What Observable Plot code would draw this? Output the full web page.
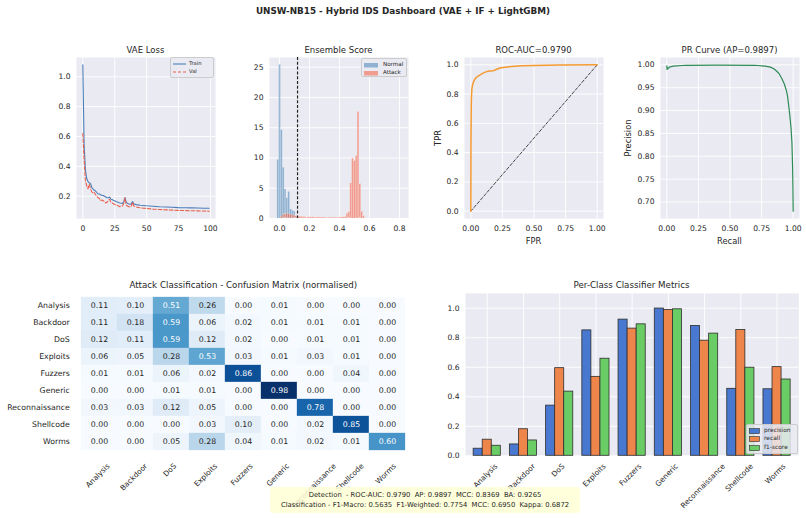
<!DOCTYPE html>
<html><head><meta charset="utf-8">
<script src="https://cdn.jsdelivr.net/npm/d3@7"></script>
<script src="https://cdn.jsdelivr.net/npm/@observablehq/plot@0.6"></script>
<style>
html,body{margin:0;padding:0;background:#fff;}
#root{position:relative;width:806px;height:518px;overflow:hidden;font-family:"DejaVu Sans",sans-serif;color:#262626;}
.lbl{position:absolute;white-space:nowrap;line-height:1;transform:translate(-50%,-50%);}
.leg{position:absolute;background:rgba(234,234,242,0.85);border:0.8px solid #cccccc;border-radius:2px;box-sizing:border-box;}
.leg .row{position:absolute;left:2px;display:flex;align-items:center;white-space:nowrap;line-height:1;}
.foot{position:absolute;background:rgba(255,255,214,0.85);border-radius:3px;text-align:center;white-space:pre;font-size:6.8px;line-height:10px;box-sizing:border-box;padding-top:3px;}
</style></head><body><div id="root"></div>
<script>
// ---------------- data ----------------
const classes = ["Analysis","Backdoor","DoS","Exploits","Fuzzers","Generic","Reconnaissance","Shellcode","Worms"];

const vaeEpochs = [0,1,2,3,4,5,6,7,8,9,10,11,12,13,14,15,16,17,18,19,20,21,22,23,24,25,26,27,28,29,30,31,32,33,34,35,36,37,38,39,40,42,45,50,55,60,65,70,75,80,85,90,95,99];
const trainLoss = [1.08,0.55,0.38,0.32,0.30,0.29,0.285,0.26,0.25,0.24,0.235,0.225,0.215,0.215,0.21,0.205,0.205,0.20,0.195,0.19,0.19,0.195,0.18,0.178,0.172,0.17,0.165,0.162,0.158,0.155,0.153,0.152,0.16,0.19,0.16,0.152,0.148,0.147,0.15,0.165,0.148,0.144,0.14,0.136,0.133,0.13,0.128,0.126,0.124,0.123,0.122,0.121,0.12,0.12];
const valLoss = [0.62,0.45,0.31,0.27,0.25,0.28,0.25,0.23,0.22,0.225,0.21,0.20,0.19,0.185,0.17,0.175,0.17,0.165,0.155,0.16,0.17,0.18,0.16,0.155,0.15,0.145,0.14,0.14,0.135,0.13,0.132,0.135,0.15,0.19,0.14,0.135,0.13,0.128,0.135,0.16,0.135,0.128,0.122,0.118,0.114,0.111,0.109,0.107,0.105,0.104,0.103,0.102,0.101,0.10];

const binWidth = 0.0122;
const normalStart = -0.015;
const normalDensity = [9.7,25.4,14.6,8.4,4.8,3.4,4.4,1.5,1.3,1.15,0.4,0.2];
const attackStart = 0.008;
const attackDensity = [0.3,0.6,0.75,0.8,0.7,0.65,0.55,0.5,0.45,0.4,0.3,0.28,0.26,0.24,0.22,0.21,0.2,0.2,0.19,0.18,0.18,0.17,0.17,0.16,0.16,0.15,0.15,0.15,0.15,0.15,0.15,0.16,0.17,0.18,0.2,0.25,0.8,1.1,5.8,9.9,9.5,10.3,17.6,5.7,1.1,0.4];
const threshold = [0.12];

const rocFpr = [0,0.001,0.003,0.005,0.008,0.012,0.02,0.03,0.045,0.06,0.08,0.1,0.13,0.15,0.18,0.2,0.23,0.27,0.32,0.4,0.5,0.7,1.0];
const rocTpr = [0,0.45,0.68,0.78,0.83,0.855,0.88,0.9,0.915,0.925,0.935,0.945,0.955,0.958,0.96,0.968,0.978,0.984,0.988,0.993,0.996,0.999,1.0];
const chance = [0, 1];

const prRecall = [0,0.002,0.004,0.008,0.02,0.05,0.15,0.4,0.7,0.78,0.82,0.85,0.87,0.89,0.91,0.93,0.945,0.955,0.965,0.975,0.983,0.99,0.995,0.998,1.0];
const prPrecision = [0.998,0.99,0.994,0.991,0.995,0.997,0.999,0.9995,0.999,0.997,0.995,0.991,0.986,0.98,0.97,0.958,0.945,0.932,0.91,0.885,0.862,0.83,0.78,0.73,0.68];

const confusion = [
  [0.11,0.10,0.51,0.26,0.00,0.01,0.00,0.00,0.00],
  [0.11,0.18,0.59,0.06,0.02,0.01,0.01,0.01,0.00],
  [0.12,0.11,0.59,0.12,0.02,0.00,0.01,0.01,0.00],
  [0.06,0.05,0.28,0.53,0.03,0.01,0.03,0.01,0.00],
  [0.01,0.01,0.06,0.02,0.86,0.00,0.00,0.04,0.00],
  [0.00,0.00,0.01,0.01,0.00,0.98,0.00,0.00,0.00],
  [0.03,0.03,0.12,0.05,0.00,0.00,0.78,0.00,0.00],
  [0.00,0.00,0.00,0.03,0.10,0.00,0.02,0.85,0.00],
  [0.00,0.00,0.05,0.28,0.04,0.01,0.02,0.01,0.60]
];

const metricNames = ["precision","recall","f1-score"];
const precision = [0.048,0.077,0.34,0.85,0.923,0.998,0.88,0.454,0.451];
const recall    = [0.109,0.18,0.594,0.535,0.862,0.989,0.78,0.853,0.601];
const f1score   = [0.068,0.104,0.435,0.658,0.891,0.993,0.828,0.597,0.517];

const footerLines = [
  "Detection  - ROC-AUC: 0.9790  AP: 0.9897  MCC: 0.8369  BA: 0.9265",
  "Classification - F1-Macro: 0.5635  F1-Weighted: 0.7754  MCC: 0.6950  Kappa: 0.6872"
];

// ---------------- helpers ----------------
const root = document.getElementById("root");
const FONT = "DejaVu Sans, sans-serif";
const BG = "#EAEAF2";
const TXT = "#262626";
const TICK = 7.6;

function addPlot(frame, m, opts) {
  const [x0, x1, y0, y1] = frame;
  const [mt, mr, mb, ml] = m;
  const svg = Plot.plot({
    width: x1 - x0 + ml + mr,
    height: y1 - y0 + mt + mb,
    marginTop: mt, marginRight: mr, marginBottom: mb, marginLeft: ml,
    style: {background: "transparent", fontFamily: FONT, fontSize: TICK + "px", color: TXT, overflow: "visible"},
    ...opts
  });
  svg.style.position = "absolute";
  svg.style.left = (x0 - ml) + "px";
  svg.style.top = (y0 - mt) + "px";
  root.appendChild(svg);
}
function label(text, x, y, size, extra = {}) {
  const d = document.createElement("div");
  d.className = "lbl";
  d.textContent = text;
  Object.assign(d.style, {left: x + "px", top: y + "px", fontSize: size + "px"}, extra);
  root.appendChild(d);
}
function legend(box, rows, fs) {
  const d = document.createElement("div");
  d.className = "leg";
  Object.assign(d.style, {left: box[0] + "px", top: box[1] + "px", width: box[2] + "px", height: box[3] + "px", fontSize: fs + "px"});
  rows.forEach(r => {
    const e = document.createElement("div");
    e.className = "row";
    e.style.top = r.top + "px";
    e.innerHTML = `<svg width="${r.w}" height="6" style="margin-right:${r.gap}px;overflow:visible">${r.svg}</svg><span>${r.label}</span>`;
    d.appendChild(e);
  });
  root.appendChild(d);
}
const fmt1 = d3.format(".1f"), fmt2 = d3.format(".2f");
function darkgrid(xt, yt) {
  return [
    Plot.frame({fill: BG, stroke: null}),
    Plot.gridX({ticks: xt, stroke: "white", strokeOpacity: 1, strokeWidth: 0.9}),
    Plot.gridY({ticks: yt, stroke: "white", strokeOpacity: 1, strokeWidth: 0.9})
  ];
}
function axes(xt, yt, xf, yf) {
  return [
    Plot.axisX({ticks: xt, tickFormat: xf, tickSize: 0, tickPadding: 7, label: null, fill: TXT}),
    Plot.axisY({ticks: yt, tickFormat: yf, tickSize: 0, tickPadding: 6, label: null, fill: TXT})
  ];
}
const ctx = document.createElement("canvas").getContext("2d");
function rotLabels(items, fs, pad) {
  ctx.font = `${fs}px "DejaVu Sans"`;
  return items.map(it => {
    const L = ctx.measureText(it.text).width;
    const dy = pad + (L + fs * 1.1) * Math.SQRT1_2 / 2;
    return Plot.text([it], {x: "x", text: "text", frameAnchor: "bottom", rotate: -45, dy, fontSize: fs, fill: TXT, textAnchor: "middle"});
  });
}

// ---------------- title ----------------
label("UNSW-NB15 - Hybrid IDS Dashboard (VAE + IF + LightGBM)", 403, 11, 8.8, {fontWeight: "bold"});

// ---------------- VAE loss ----------------
const vaeRows = vaeEpochs.map((e, i) => ({e, train: trainLoss[i], val: valLoss[i]}));
const vaeX = [0, 25, 50, 75, 100], vaeY = [0.2, 0.4, 0.6, 0.8, 1.0];
addPlot([76, 215, 57, 218], [5, 5, 30, 40], {
  x: {domain: [-4.95, 103.95]},
  y: {domain: [0.051, 1.129]},
  marks: [
    ...darkgrid(vaeX, vaeY),
    Plot.line(vaeRows, {x: "e", y: "train", stroke: "#4c7fb8", strokeWidth: 1.1}),
    Plot.line(vaeRows, {x: "e", y: "val", stroke: "#e8604c", strokeWidth: 1.1, strokeDasharray: "3.5,2"}),
    ...axes(vaeX, vaeY, d => d, fmt1)
  ]
});
label("VAE Loss", 145.5, 49.5, 8.5);
legend([170, 57, 44, 21], [
  {top: 2.5, w: 13, gap: 3, label: "Train", svg: `<line x1="0" x2="13" y1="3" y2="3" stroke="#4c7fb8" stroke-width="1.1"/>`},
  {top: 11, w: 13, gap: 3, label: "Val", svg: `<line x1="0" x2="13" y1="3" y2="3" stroke="#e8604c" stroke-width="1.1" stroke-dasharray="3,2"/>`}
], 5.2);

// ---------------- Ensemble score ----------------
const normalBins = normalDensity.map((v, i) => ({x1: normalStart + i * binWidth, x2: normalStart + (i + 1) * binWidth, d: v}));
const attackBins = attackDensity.map((v, i) => ({x1: attackStart + i * binWidth, x2: attackStart + (i + 1) * binWidth, d: v}));
const ensX = [0, 0.2, 0.4, 0.6, 0.8], ensY = [0, 5, 10, 15, 20, 25];
addPlot([269, 408, 57, 218], [5, 5, 30, 40], {
  x: {domain: [-0.067, 0.86]},
  y: {domain: [0, 26.6]},
  marks: [
    ...darkgrid(ensX, ensY),
    Plot.rect(normalBins, {x1: "x1", x2: "x2", y1: 0, y2: "d", fill: "#4682b4", fillOpacity: 0.55, stroke: "white", strokeWidth: 0.3, strokeOpacity: 0.6}),
    Plot.rect(attackBins, {x1: "x1", x2: "x2", y1: 0, y2: "d", fill: "#f4694f", fillOpacity: 0.6, stroke: "white", strokeWidth: 0.3, strokeOpacity: 0.6}),
    Plot.ruleX(threshold, {stroke: "#222", strokeWidth: 1.2, strokeDasharray: "3,1.8"}),
    ...axes(ensX, ensY, fmt1, d => d)
  ]
});
label("Ensemble Score", 338.5, 49.5, 8.5);
legend([361, 58, 46, 19], [
  {top: 2.5, w: 14, gap: 5, label: "Normal", svg: `<rect x="0" y="1" width="14" height="4.5" fill="#4682b4" fill-opacity="0.55"/>`},
  {top: 11, w: 14, gap: 5, label: "Attack", svg: `<rect x="0" y="1" width="14" height="4.5" fill="#f4694f" fill-opacity="0.6"/>`}
], 5.6);

// ---------------- ROC ----------------
const rocRows = rocFpr.map((f, i) => ({f, t: rocTpr[i]}));
const q4 = [0, 0.25, 0.5, 0.75, 1.0], rocY = [0, 0.2, 0.4, 0.6, 0.8, 1.0];
addPlot([464, 603, 57, 218], [5, 5, 30, 40], {
  x: {domain: [-0.05, 1.05]},
  y: {domain: [-0.05, 1.05]},
  marks: [
    ...darkgrid(q4, rocY),
    Plot.line(chance.map(v => ({f: v, t: v})), {x: "f", y: "t", stroke: "#333", strokeWidth: 0.9, strokeDasharray: "3,2"}),
    Plot.line(rocRows, {x: "f", y: "t", stroke: "#f39a30", strokeWidth: 1.5}),
    ...axes(q4, rocY, fmt2, fmt1)
  ]
});
label("ROC-AUC=0.9790", 533.5, 49.5, 8.5);
label("FPR", 533.5, 240.5, 8.3);
label("TPR", 437.5, 137.5, 8.3, {transform: "translate(-50%,-50%) rotate(-90deg)"});

// ---------------- PR ----------------
const prRows = prRecall.map((r, i) => ({r, p: prPrecision[i]}));
const prY = [0.70, 0.75, 0.80, 0.85, 0.90, 0.95, 1.00];
addPlot([660, 799, 57, 218], [5, 5, 30, 40], {
  x: {domain: [-0.05, 1.05]},
  y: {domain: [0.664, 1.016]},
  marks: [
    ...darkgrid(q4, prY),
    Plot.line(prRows, {x: "r", y: "p", stroke: "#2e8b57", strokeWidth: 1.2}),
    ...axes(q4, prY, fmt2, fmt2)
  ]
});
label("PR Curve (AP=0.9897)", 729.5, 49.5, 8.5);
label("Recall", 729.5, 240.5, 8.3);
label("Precision", 628, 138, 8.3, {transform: "translate(-50%,-50%) rotate(-90deg)"});

// ---------------- Confusion matrix ----------------
const cmRows = [];
classes.forEach((t, i) => confusion[i].forEach((v, j) => cmRows.push({t, p: classes[j], v})));
const vmax = d3.max(cmRows, d => d.v), vmin = d3.min(cmRows, d => d.v);
function relLum(c) {
  const rgb = d3.rgb(c);
  const f = x => { x /= 255; return x <= 0.03928 ? x / 12.92 : Math.pow((x + 0.055) / 1.055, 2.4); };
  return 0.2126 * f(rgb.r) + 0.7152 * f(rgb.g) + 0.0722 * f(rgb.b);
}
const isDark = v => relLum(d3.interpolateBlues((v - vmin) / (vmax - vmin))) <= 0.408;
addPlot([78.3, 408.3, 292.7, 453.8], [0, 2, 70, 78.3], {
  x: {domain: classes, padding: 0, axis: null},
  y: {domain: classes, padding: 0},
  color: {type: "linear", scheme: "blues", domain: [vmin, vmax]},
  marks: [
    Plot.cell(cmRows, {x: "p", y: "t", fill: "v", inset: 0, stroke: "v", strokeWidth: 0.3}),
    Plot.text(cmRows, {filter: d => isDark(d.v), x: "p", y: "t", text: d => fmt2(d.v), fill: "white", fontSize: 7.8}),
    Plot.text(cmRows, {filter: d => !isDark(d.v), x: "p", y: "t", text: d => fmt2(d.v), fill: TXT, fontSize: 7.8}),
    Plot.axisY({tickSize: 0, tickPadding: 9, label: null, fill: TXT, fontSize: 7.8}),
    ...rotLabels(classes.map(c => ({x: c, text: c})), 7.4, 9)
  ]
});
label("Attack Classification - Confusion Matrix (normalised)", 243.3, 285, 8.7);

// ---------------- Per-class metrics ----------------
const metricSeries = [precision, recall, f1score];
const metricColors = ["#4878d0", "#ee854a", "#6acc64"];
const barW = 0.25;
const barRows = [];
metricSeries.forEach((arr, m) => arr.forEach((v, i) => barRows.push({i, m: metricNames[m], off: (m - 1) * barW, v})));
const barY = [0, 0.2, 0.4, 0.6, 0.8, 1.0];
const classIdx = classes.map((c, i) => i);
addPlot([465, 798.3, 292.7, 455], [0, 5, 60, 40], {
  x: {domain: [-0.6, 8.6], axis: null},
  y: {domain: [0, 1.1]},
  color: {domain: metricNames, range: metricColors},
  marks: [
    Plot.frame({fill: BG, stroke: null}),
    Plot.gridX({ticks: classIdx, stroke: "white", strokeOpacity: 1, strokeWidth: 0.9}),
    Plot.gridY({ticks: barY, stroke: "white", strokeOpacity: 1, strokeWidth: 0.9}),
    Plot.rect(barRows, {x1: d => d.i + d.off - barW / 2, x2: d => d.i + d.off + barW / 2, y1: 0, y2: "v", fill: "m", stroke: "#2e2e2e", strokeWidth: 0.8}),
    Plot.axisY({ticks: barY, tickFormat: fmt1, tickSize: 0, tickPadding: 6, label: null, fill: TXT}),
    ...rotLabels(classes.map((c, i) => ({x: i, text: c})), 7.4, 8)
  ]
});
label("Per-Class Classifier Metrics", 631.6, 285, 8.7);
legend([746, 424, 52, 30], metricNames.map((n, k) => ({
  top: 2.5 + k * 8.5, w: 11, gap: 4, label: n,
  svg: `<rect x="0.4" y="0.6" width="10" height="5" fill="${metricColors[k]}" stroke="#2e2e2e" stroke-width="0.6"/>`
})), 5.9);

// ---------------- footer ----------------
const foot = document.createElement("div");
foot.className = "foot";
foot.textContent = footerLines.join("\n");
Object.assign(foot.style, {left: "270px", top: "487px", width: "310px", height: "26px"});
root.appendChild(foot);
</script></body></html>
